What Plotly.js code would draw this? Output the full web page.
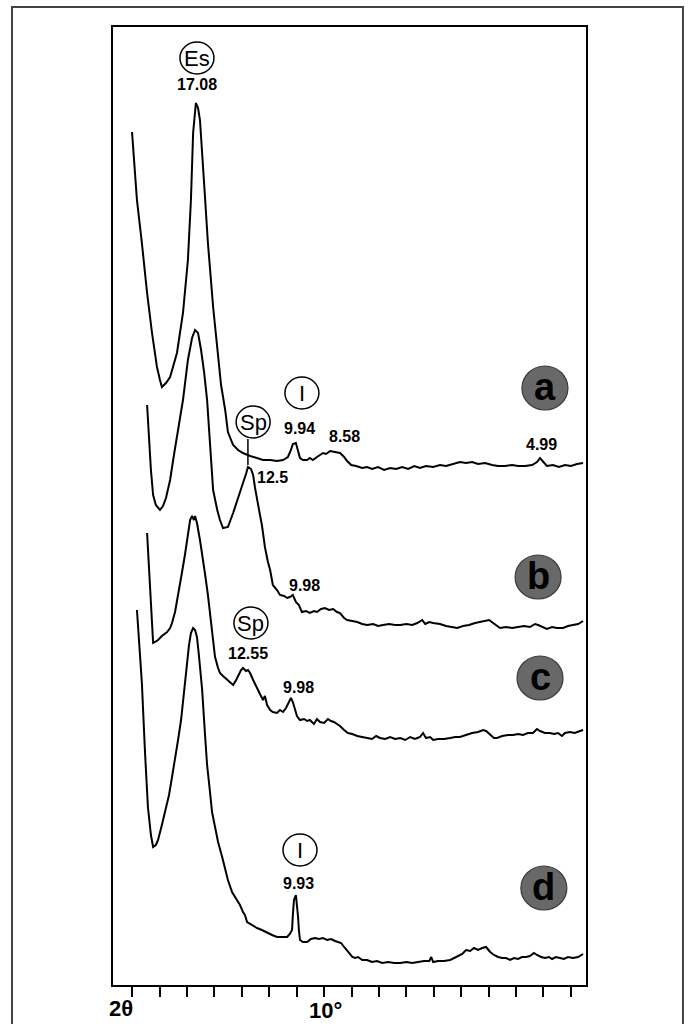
<!DOCTYPE html>
<html>
<head>
<meta charset="utf-8">
<script src="https://cdn.plot.ly/plotly-3.0.1.min.js"></script>
<style>html,body{margin:0;padding:0;background:#fff;}#chart{width:689px;height:1024px;}</style>
</head>
<body>
<div id="chart"></div>
<script>
// 2-theta (degrees) and relative intensity for each pattern
const twoThetaA = [2.99,3.17,3.35,3.54,3.72,3.90,4.01,4.08,4.23,4.38,4.63,4.85,5.03,5.14,5.22,5.32,5.40,5.47,5.62,5.76,5.95,6.13,6.24,6.39,6.49,6.68,6.86,7.04,7.30,7.55,7.77,8.03,8.28,8.50,8.68,8.79,8.86,8.97,9.05,9.12,9.23,9.38,9.48,9.59,9.74,9.85,9.96,10.07,10.22,10.40,10.58,10.73,10.84,10.99,11.17,11.39,11.57,11.75,11.97,12.19,12.41,12.63,12.85,13.07,13.29,13.50,13.72,13.98,14.23,14.45,14.71,14.96,15.18,15.40,15.62,15.88,16.13,16.35,16.60,16.86,17.08,17.33,17.59,17.77,17.88,17.99,18.13,18.35,18.57,18.79,19.01,19.23,19.45];
const intensityA = [334,266,223,173,133,99,86,79,83,89,113,153,206,266,333,363,358,346,283,223,159,113,81,56,34,21,16,13,10,8,6,6,5,6,9,16,22,23,16,8,6,6,8,6,9,11,13,12,15,14,13,9,5,1,0,-2,-1,-3,-1,-4,-2,-3,-1,-3,0,-2,0,-1,1,0,2,4,3,4,2,3,1,0,0,1,0,0,1,4,8,4,0,1,-1,1,0,2,3];

const twoThetaB = [3.54,3.61,3.68,3.76,3.86,4.01,4.12,4.23,4.38,4.52,4.67,4.85,5.03,5.18,5.29,5.40,5.51,5.62,5.73,5.84,5.95,6.10,6.20,6.31,6.49,6.68,6.86,7.04,7.15,7.22,7.33,7.41,7.48,7.55,7.66,7.73,7.84,7.95,8.03,8.13,8.28,8.39,8.54,8.65,8.75,8.86,8.97,9.08,9.19,9.34,9.48,9.63,9.74,9.89,10.03,10.18,10.33,10.47,10.58,10.73,10.84,11.03,11.21,11.39,11.57,11.79,11.97,12.15,12.37,12.59,12.78,13.00,13.22,13.40,13.58,13.69,13.84,13.98,14.23,14.45,14.67,14.86,15.07,15.29,15.51,15.73,15.92,16.02,16.17,16.31,16.42,16.64,16.86,17.08,17.30,17.51,17.70,17.81,17.99,18.13,18.32,18.50,18.72,18.90,19.08,19.27,19.45];
const intensityB = [220,185,155,130,120,115,119,127,145,170,195,225,265,287,295,292,275,253,225,175,135,115,105,97,98,112,128,142,151,158,156,150,137,125,110,100,78,63,55,40,35,30,29,27,28,30,23,20,13,14,12,14,13,16,17,15,16,13,12,7,5,4,3,1,0,1,-1,0,1,0,0,1,0,2,5,1,3,2,1,-1,-2,-3,-1,0,2,3,4,5,2,-1,-3,-2,-3,-2,-1,-2,1,0,-2,-4,-2,-3,-3,-1,0,1,4];

const twoThetaC = [3.54,3.58,3.65,3.68,3.76,3.83,3.94,4.08,4.27,4.38,4.45,4.56,4.63,4.74,4.81,4.92,5.00,5.11,5.18,5.25,5.29,5.36,5.47,5.58,5.65,5.76,5.84,5.95,6.02,6.13,6.20,6.31,6.46,6.57,6.68,6.79,6.86,6.97,7.04,7.15,7.22,7.30,7.41,7.55,7.66,7.77,7.84,7.92,8.03,8.13,8.28,8.39,8.50,8.61,8.72,8.79,8.86,8.94,9.01,9.12,9.27,9.38,9.48,9.63,9.74,9.85,10.00,10.14,10.25,10.36,10.47,10.58,10.73,10.87,11.03,11.21,11.39,11.57,11.75,11.90,12.04,12.23,12.41,12.59,12.78,12.96,13.14,13.32,13.50,13.61,13.72,13.87,13.98,14.16,14.38,14.60,14.79,14.96,15.18,15.40,15.62,15.80,15.91,16.06,16.20,16.31,16.50,16.71,16.90,17.08,17.26,17.44,17.62,17.77,17.88,18.06,18.24,18.39,18.54,18.68,18.79,18.97,19.15,19.34,19.45];
const intensityC = [202,180,155,125,92,93,95,99,103,107,112,123,135,150,162,180,195,215,219,215,219,212,195,177,162,140,122,95,78,67,62,59,55,53,50,55,59,65,67,64,65,62,55,48,41,35,39,30,25,23,22,25,23,27,34,37,33,25,19,15,16,14,15,11,16,13,12,16,14,13,11,9,5,2,1,-1,-2,-3,-4,-1,-3,-4,-2,-4,-3,-5,-2,-4,-2,2,-3,-2,-5,-4,-4,-3,-2,-2,0,2,3,5,4,0,-3,-3,-1,0,0,1,0,2,2,6,4,2,2,1,2,-1,2,3,2,4,5];

const twoThetaD = [3.17,3.24,3.35,3.46,3.57,3.68,3.76,3.86,3.94,4.08,4.19,4.34,4.45,4.56,4.67,4.78,4.85,4.92,5.00,5.07,5.14,5.22,5.29,5.36,5.43,5.47,5.55,5.65,5.73,5.84,5.91,6.02,6.13,6.28,6.39,6.49,6.64,6.82,6.93,7.04,7.11,7.19,7.37,7.55,7.73,7.92,8.10,8.28,8.46,8.65,8.75,8.83,8.86,8.90,8.97,9.01,9.05,9.08,9.12,9.23,9.38,9.52,9.67,9.81,9.96,10.11,10.25,10.40,10.51,10.62,10.73,10.87,11.03,11.13,11.24,11.39,11.57,11.75,11.93,12.12,12.34,12.56,12.78,13.00,13.22,13.43,13.65,13.84,13.91,13.98,14.16,14.38,14.60,14.82,15.04,15.18,15.33,15.47,15.62,15.77,15.91,16.06,16.20,16.35,16.50,16.64,16.79,16.93,17.08,17.22,17.37,17.51,17.66,17.77,17.92,18.06,18.21,18.32,18.46,18.61,18.75,18.90,19.08,19.27,19.45];
const intensityD = [348,318,275,208,151,123,111,113,118,133,145,163,181,198,218,238,258,278,298,313,325,330,328,321,303,291,268,225,193,165,146,131,116,101,90,78,66,58,53,46,43,36,33,30,28,25,23,21,21,21,24,28,43,58,63,53,41,28,18,16,16,19,20,19,20,18,19,17,16,15,11,6,1,0,1,-2,-2,-4,-3,-5,-4,-5,-5,-4,-5,-4,-3,-3,1,-4,-3,-3,-2,1,4,8,7,10,8,10,11,6,3,1,0,0,-2,0,-1,1,1,2,5,3,1,0,1,-1,1,0,-1,1,0,1,4];

const patternNames = ['a','b','c','d'];
const patternOffsets = [519, 360, 250, 27];

// peak labels (d-spacings in Å) : [2θ, plotted height, text]
const peakLabels = [
  [5.36, 901, '17.08'],
  [9.12, 557, '9.94'],
  [10.76, 549, '8.58'],
  [17.95, 541, '4.99'],
  [8.10, 508, '12.5'],
  [9.30, 400, '9.98'],
  [7.22, 332, '12.55'],
  [9.08, 298, '9.98'],
  [9.08, 102, '9.93']
];
// mineral markers: [2θ, plotted height, text]
const mineralMarks = [
  [5.36, 927, 'Es'],
  [9.19, 592, 'I'],
  [7.41, 563, 'Sp'],
  [7.33, 362, 'Sp'],
  [9.12, 135, 'I']
];
// sample badges: [2θ, plotted height]
const badgePos = [[18.06, 597], [17.81, 408], [17.88, 307], [18.02, 97]];

const xTicks = [3,4,5,6,7,8,9,10,11,12,13,14,15,16,17,18,19];

const xs = [twoThetaA, twoThetaB, twoThetaC, twoThetaD];
const ys = [intensityA, intensityB, intensityC, intensityD];

const traces = xs.map((x, i) => ({
  x: x,
  y: ys[i].map(v => v + patternOffsets[i]),
  type: 'scatter',
  mode: 'lines',
  name: patternNames[i],
  line: {color: '#000', width: 2},
  hoverinfo: 'skip'
}));

const shapes = [];
const annotations = [];

const numFont = {family: 'Liberation Sans, Arial, sans-serif', size: 16, color: '#000'};
peakLabels.forEach(p => annotations.push({
  x: p[0], y: p[1], xref: 'x', yref: 'y', text: '<b>' + p[2] + '</b>',
  showarrow: false, font: numFont, xanchor: 'center', yanchor: 'middle'
}));

mineralMarks.forEach(m => {
  shapes.push({
    type: 'circle', xref: 'x', yref: 'y', xsizemode: 'pixel', ysizemode: 'pixel',
    xanchor: m[0], yanchor: m[1], x0: -17, x1: 17, y0: -16, y1: 16,
    line: {color: '#000', width: 1.5}, fillcolor: 'rgba(255,255,255,0)'
  });
  annotations.push({
    x: m[0], y: m[1], xref: 'x', yref: 'y', text: m[2], showarrow: false,
    font: {family: 'Liberation Sans, Arial, sans-serif', size: 22, color: '#000'},
    xanchor: 'center', yanchor: 'middle'
  });
});

// marker line from Sp (b) to its peak
shapes.push({type: 'line', xref: 'x', yref: 'y', x0: 7.22, x1: 7.22, y0: 546, y1: 520,
  line: {color: '#000', width: 1.5}});

badgePos.forEach((b, i) => {
  shapes.push({
    type: 'circle', xref: 'x', yref: 'y', xsizemode: 'pixel', ysizemode: 'pixel',
    xanchor: b[0], yanchor: b[1], x0: -23, x1: 23, y0: -22, y1: 22,
    line: {color: '#3a3a3a', width: 1.2}, fillcolor: '#686868'
  });
  annotations.push({
    x: b[0], y: b[1], xref: 'x', yref: 'y', text: '<b>' + patternNames[i] + '</b>',
    showarrow: false, font: {family: 'Liberation Sans, Arial, sans-serif', size: 38, color: '#000'},
    xanchor: 'center', yanchor: 'middle', yshift: 1
  });
});

// outer frame of the figure
shapes.push({type: 'rect', xref: 'paper', yref: 'paper', x0: -0.2135, x1: 1.205, y0: -0.06, y1: 1.0209,
  line: {color: '#444', width: 2}, fillcolor: 'rgba(0,0,0,0)', layer: 'below'});

// axis labels
annotations.push({x: 2.6, y: -0.0245, xref: 'x', yref: 'paper', text: '<b>2θ</b>', showarrow: false,
  font: {family: 'Liberation Sans, Arial, sans-serif', size: 22, color: '#000'}, xanchor: 'center', yanchor: 'middle'});
annotations.push({x: 10.05, y: -0.027, xref: 'x', yref: 'paper', text: '<b>10°</b>', showarrow: false,
  font: {family: 'Liberation Sans, Arial, sans-serif', size: 22, color: '#000'}, xanchor: 'center', yanchor: 'middle'});

const layout = {
  width: 689, height: 1024,
  margin: {l: 113, r: 103, t: 27, b: 39},
  paper_bgcolor: '#fff', plot_bgcolor: '#fff',
  showlegend: false,
  xaxis: {
    range: [2.296, 19.558], showgrid: false, zeroline: false,
    showline: true, mirror: true, linecolor: '#000', linewidth: 2,
    ticks: 'outside', ticklen: 10, tickwidth: 2, tickcolor: '#000',
    tickvals: xTicks, showticklabels: false, fixedrange: true
  },
  yaxis: {
    range: [0, 958], showgrid: false, zeroline: false,
    showline: true, mirror: true, linecolor: '#000', linewidth: 2,
    ticks: '', showticklabels: false, fixedrange: true
  },
  shapes: shapes,
  annotations: annotations
};

Plotly.newPlot('chart', traces, layout, {displayModeBar: false, staticPlot: true});
</script>
</body>
</html>
